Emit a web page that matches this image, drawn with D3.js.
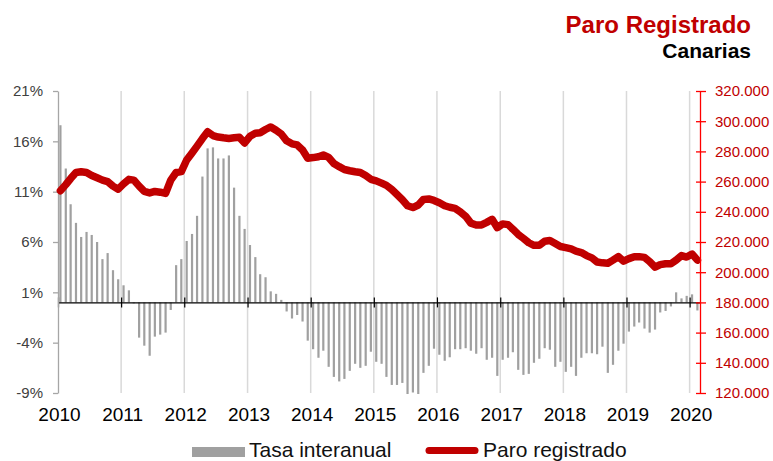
<!DOCTYPE html>
<html>
<head>
<meta charset="utf-8">
<script src="https://cdn.jsdelivr.net/npm/d3@7"></script>
<style>
  body { margin: 0; background: #fff; }
  svg { font-family: "Liberation Sans", Arial, sans-serif; }
</style>
</head>
<body>
<div id="chart"></div>
<script>
// monthly data, Jan 2010 .. Feb 2020
const startMonth = new Date(2010, 0, 1);

// tasa interanual (%)
const tasa = [
  17.6, 13.3, 9.75, 7.9, 6.5, 7.0, 6.7, 6.0, 4.3, 4.9, 3.2, 2.3,
  1.7, 1.2, -0.1, -3.5, -4.3, -5.3, -3.4, -3.2, -3.0, -0.75, 3.7, 4.3,
  6.1, 6.8, 8.6, 12.5, 15.3, 15.4, 14.3, 14.3, 14.6, 11.4, 8.6, 7.3,
  5.7, 4.5, 2.8, 2.5, 1.1, 0.85, 0.25, -0.9, -1.6, -1.25, -1.9, -3.8,
  -4.65, -5.5, -4.8, -6.4, -7.4, -7.85, -7.6, -6.8, -6.1, -6.5, -6.3, -4.9,
  -5.9, -6.1, -7.4, -8.2, -8.2, -8.0, -9.1, -8.95, -9.1, -7.0, -6.3, -4.6,
  -5.2, -5.8, -5.45, -4.65, -4.65, -4.55, -4.8, -5.1, -4.55, -5.7, -5.5, -7.3,
  -5.7, -5.5, -4.95, -6.7, -7.2, -7.1, -6.0, -5.6, -4.55, -4.7, -6.4, -5.9,
  -6.9, -6.4, -7.3, -5.5, -5.05, -5.05, -5.15, -4.4, -7.0, -6.2, -4.8, -4.1,
  -2.9, -2.4, -2.0, -2.6, -3.0, -2.7, -1.0, -0.85, -0.4, 1.0, 0.4, 0.65,
  0.8, -0.8
];

// paro registrado (personas, en miles)
const paro = [
  254, 258, 262, 266, 266.5, 266, 264, 262.5, 261, 260, 257, 255,
  258.5, 261.5, 261, 257, 253.5, 252.5, 253.5, 253, 252.2, 261, 266, 266.6,
  274.3, 279, 283.5, 288.5, 293, 290.5, 289.5, 289, 288.6, 289, 289.3, 285.6,
  290, 292, 292.4, 294.5, 296.2, 294, 291.5, 287, 285, 284.3, 281, 275.5,
  275.9, 276.5, 277.6, 276, 272, 269.9, 268, 267.2, 266.5, 266, 264, 261.5,
  260.5, 259, 257.5, 254.8, 251.5, 248, 244, 242.8, 244.5, 248.2, 248.5, 247.5,
  246, 244, 243, 242.3, 240, 237, 232.5, 231.3, 231.3, 233, 235, 229.5,
  232, 231.5, 228.5, 225, 222.4, 219.5, 217.8, 217.8, 220.5, 221, 219, 217,
  216.3, 215.5, 214, 213, 211, 209.5, 206.8, 206.2, 205.9, 208, 210.3, 207.3,
  209, 210.3, 210.3, 209.8, 207, 203.3, 205, 205.6, 205.6, 208, 211, 210,
  212, 208
];

const pctTicks = [-9, -4, 1, 6, 11, 16, 21];
const paroTicks = [120000, 140000, 160000, 180000, 200000, 220000, 240000, 260000, 280000, 300000, 320000];
const years = d3.range(2010, 2021);

const data = tasa.map((t, i) => ({
  date: new Date(2010, i, 15),
  tasa: t,
  paro: paro[i] * 1000
}));

const W = 773, H = 461;
const mLeft = 58, mRight = 700, mTop = 91, mBottom = 393;
const red = "#c00000";

const svg = d3.select("#chart").append("svg")
  .attr("width", W)
  .attr("height", H);

const x = d3.scaleTime()
  .domain([startMonth, new Date(2020, 2, 1)])
  .range([mLeft, mRight]);

const yPct = d3.scaleLinear().domain([-9, 21]).range([mBottom, mTop]);
const yParo = d3.scaleLinear().domain([120000, 320000]).range([mBottom, mTop]);

const es = d3.formatLocale({ decimal: ",", thousands: ".", grouping: [3], currency: ["", " €"] });
const fmtParo = es.format(",.0f");

// vertical year gridlines
svg.append("g")
  .selectAll("line")
  .data(years.slice(1))
  .join("line")
  .attr("x1", d => x(new Date(d, 0, 1)))
  .attr("x2", d => x(new Date(d, 0, 1)))
  .attr("y1", mTop)
  .attr("y2", mBottom)
  .attr("stroke", "#d9d9d9")
  .attr("stroke-width", 1.5);

// bars
svg.append("g")
  .selectAll("rect")
  .data(data)
  .join("rect")
  .attr("x", d => x(d.date) - 1.1)
  .attr("width", 2.2)
  .attr("y", d => yPct(Math.max(0, d.tasa)))
  .attr("height", d => Math.abs(yPct(d.tasa) - yPct(0)))
  .attr("fill", "#a0a0a0");

// zero axis with year ticks crossing
const zeroAxis = svg.append("g")
  .attr("transform", `translate(0,${yPct(0)})`)
  .call(d3.axisBottom(x)
    .tickValues(years.map(y => new Date(y, 0, 1)))
    .tickSize(5)
    .tickSizeOuter(0)
    .tickFormat(""));
zeroAxis.select(".domain").attr("stroke", "#000").attr("stroke-width", 1.2);
zeroAxis.selectAll(".tick line").attr("y1", -5).attr("stroke", "#000").attr("stroke-width", 1.2);

// year labels
const yearAxis = svg.append("g")
  .attr("transform", `translate(1,${mBottom})`)
  .call(d3.axisBottom(x)
    .tickValues(years.map(y => new Date(y, 0, 1)))
    .tickSize(0)
    .tickPadding(15)
    .tickFormat(d3.timeFormat("%Y")));
yearAxis.select(".domain").remove();
yearAxis.selectAll("text")
  .attr("font-size", 19)
  .attr("font-family", "Liberation Sans, Arial, sans-serif")
  .attr("fill", "#000");

// left axis
const leftAxis = svg.append("g")
  .attr("transform", `translate(${mLeft},0)`)
  .call(d3.axisLeft(yPct)
    .tickValues(pctTicks)
    .tickSize(5)
    .tickSizeOuter(0)
    .tickPadding(10)
    .tickFormat(d => d + "%"));
leftAxis.select(".domain").attr("stroke", "#a6a6a6").attr("stroke-width", 1.3);
leftAxis.selectAll(".tick line").attr("stroke", "#a6a6a6").attr("stroke-width", 1.3);
leftAxis.selectAll("text")
  .attr("font-size", 15)
  .attr("font-family", "Liberation Sans, Arial, sans-serif")
  .attr("fill", "#404040");

// paro line
const line = d3.line()
  .x(d => x(d.date))
  .y(d => yParo(d.paro));

svg.append("path")
  .datum(data)
  .attr("d", line)
  .attr("fill", "none")
  .attr("stroke", red)
  .attr("stroke-width", 7.5)
  .attr("stroke-linejoin", "round")
  .attr("stroke-linecap", "round");

// right axis
const rightAxis = svg.append("g")
  .attr("transform", `translate(${mRight},0)`)
  .call(d3.axisRight(yParo)
    .tickValues(paroTicks)
    .tickSize(6)
    .tickSizeOuter(0)
    .tickPadding(9)
    .tickFormat(fmtParo));
rightAxis.select(".domain").attr("stroke", "#ff0000").attr("stroke-width", 1.3);
rightAxis.selectAll(".tick line").attr("x1", -4).attr("stroke", "#ff0000").attr("stroke-width", 1.3);
rightAxis.selectAll("text")
  .attr("font-size", 15)
  .attr("font-family", "Liberation Sans, Arial, sans-serif")
  .attr("fill", red);

// titles
svg.append("text")
  .attr("x", 751).attr("y", 33)
  .attr("text-anchor", "end")
  .attr("font-size", 24).attr("font-weight", "bold")
  .attr("fill", red)
  .text("Paro Registrado");
svg.append("text")
  .attr("x", 751).attr("y", 58)
  .attr("text-anchor", "end")
  .attr("font-size", 21).attr("font-weight", "bold")
  .attr("fill", "#000")
  .text("Canarias");

// legend
const legend = svg.append("g");
legend.append("rect")
  .attr("x", 192).attr("y", 447)
  .attr("width", 53).attr("height", 10)
  .attr("fill", "#a0a0a0");
legend.append("text")
  .attr("x", 249).attr("y", 457)
  .attr("font-size", 21)
  .attr("fill", "#111")
  .text("Tasa interanual");
legend.append("line")
  .attr("x1", 429).attr("x2", 475)
  .attr("y1", 450.5).attr("y2", 450.5)
  .attr("stroke", red)
  .attr("stroke-width", 7)
  .attr("stroke-linecap", "round");
legend.append("text")
  .attr("x", 483).attr("y", 457)
  .attr("font-size", 21)
  .attr("fill", "#111")
  .text("Paro registrado");
</script>
</body>
</html>
